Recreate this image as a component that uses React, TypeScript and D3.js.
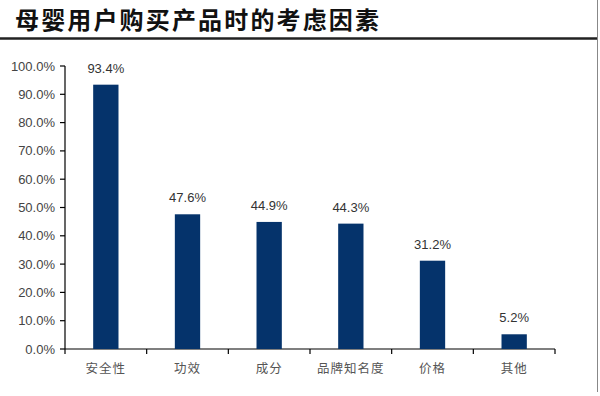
import React from "react";
import * as d3 from "d3";

const categories = ["安全性", "功效", "成分", "品牌知名度", "价格", "其他"];
const values = [93.4, 47.6, 44.9, 44.3, 31.2, 5.2];
const yTicks = [0, 10, 20, 30, 40, 50, 60, 70, 80, 90, 100];
const title = "母婴用户购买产品时的考虑因素";

export default function App() {
  const W = 600, H = 396;
  const left = 65, right = 555, top = 66, bottom = 349;
  const x = d3.scaleBand<string>().domain(categories).range([left, right]).paddingInner(0.69).paddingOuter(0.345);
  const y = d3.scaleLinear().domain([0, 100]).range([bottom, top]);
  const step = (right - left) / categories.length;
  const numFont = "'Liberation Sans', Arial, sans-serif";
  return (
    <svg width={W} height={H} style={{ position: "absolute", left: 0, top: 0, background: "#fff" }}>
      <rect width={W} height={H} fill="#fff" />
      <text x={15} y={29} fontFamily="'Noto Sans CJK SC'" fontWeight={700} fontSize={24} textLength={364} lengthAdjust="spacing" fill="#111">{title}</text>
      <line x1={0} x2={597} y1={38.5} y2={38.5} stroke="#222" strokeWidth={2.5} />
      <line x1={597.5} x2={597.5} y1={0} y2={392} stroke="#888" strokeWidth={1} />
      {/* y axis */}
      <line x1={left} x2={left} y1={top} y2={bottom} stroke="#000" strokeWidth={1.2} />
      {yTicks.map((t) => (
        <g key={t}>
          <line x1={left - 5} x2={left} y1={y(t)} y2={y(t)} stroke="#000" strokeWidth={1.2} />
          <text x={55} y={y(t) + 4.5} textAnchor="end" fontFamily={numFont} fontSize={13} fill="#444">{t.toFixed(1)}%</text>
        </g>
      ))}
      {/* x axis */}
      <line x1={left} x2={right} y1={bottom} y2={bottom} stroke="#000" strokeWidth={1.2} />
      {d3.range(categories.length + 1).map((i) => (
        <line key={i} x1={left + i * step} x2={left + i * step} y1={bottom} y2={bottom + 5} stroke="#000" strokeWidth={1.2} />
      ))}
      {categories.map((c, i) => (
        <g key={c}>
          <rect x={x(c)!} y={y(values[i])} width={x.bandwidth()} height={bottom - y(values[i])} fill="#05336b" />
          <text x={x(c)! + x.bandwidth() / 2} y={y(values[i]) - 12} textAnchor="middle" fontFamily={numFont} fontSize={13} fill="#333">{values[i].toFixed(1)}%</text>
          <text x={x(c)! + x.bandwidth() / 2} y={373} textAnchor="middle" fontFamily="'Noto Sans CJK SC'" fontSize={12.5} letterSpacing={1} fill="#555">{c}</text>
        </g>
      ))}
    </svg>
  );
}
